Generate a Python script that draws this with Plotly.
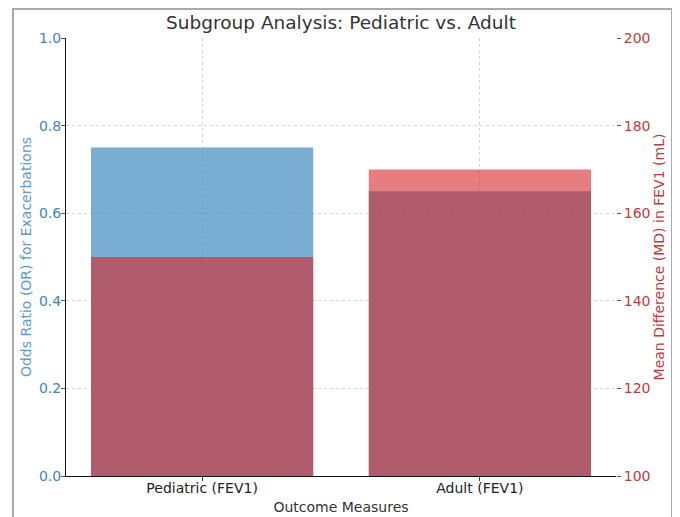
import plotly.graph_objects as go

categories = ["Pediatric (FEV1)", "Adult (FEV1)"]
odds_ratio = [0.75, 0.65]
mean_diff = [150, 170]
or_ticks = [0.0, 0.2, 0.4, 0.6, 0.8, 1.0]
md_ticks = [100, 120, 140, 160, 180, 200]

FONT = "DejaVu Sans"
BLUE_TXT = "#3f85b8"
RED_TXT = "#c23b3b"

# the page shows the figure 8 px in from the window's top-left corner,
# so the layout below is set 8 px up/left of where it appears
OFF = 8
W, H = 680, 517
L = 66 - OFF
T = 38 - OFF
PR = 616 - OFF           # plot right edge (figure px)
PB = 476 - OFF           # plot bottom edge (figure px)
R = W - PR
B = H - PB
PW, PH = PR - L, PB - T


def px_x(x):
    return (x - OFF - L) / PW


def px_y(y):
    return (PB - (y - OFF)) / PH


fig = go.Figure()
fig.add_trace(go.Bar(
    x=categories, y=odds_ratio, width=0.8,
    marker=dict(color="rgba(31,119,180,0.6)", line=dict(width=0)),
    yaxis="y", name="OR",
))
fig.add_trace(go.Bar(
    x=categories, y=mean_diff, width=0.8,
    marker=dict(color="rgba(214,39,40,0.6)", line=dict(width=0)),
    yaxis="y2", name="MD",
))

fig.update_layout(
    width=W, height=H,
    margin=dict(l=L, r=R, t=T, b=B, autoexpand=False),
    paper_bgcolor="white", plot_bgcolor="white",
    barmode="overlay", showlegend=False,
    font=dict(family=FONT, size=14, color="#222"),
    title=dict(text="Subgroup Analysis: Pediatric vs. Adult", x=(L + PW / 2) / W,
               xanchor="center", y=1 - (22.5 - OFF) / H, yanchor="middle",
               font=dict(family=FONT, size=18.5, color="#333")),
    xaxis=dict(
        type="category", range=[-0.49, 1.49], automargin=False,
        showline=True, linecolor="#111", linewidth=1,
        ticks="outside", ticklen=4, tickcolor="#333", ticklabelstandoff=-5,
        showgrid=True, gridcolor="#d4d4d4", griddash="dot", gridwidth=1,
        tickfont=dict(family=FONT, size=14, color="#222"),
        title=dict(text="Outcome Measures", standoff=7,
                   font=dict(family=FONT, size=14, color="#333")),
        zeroline=False, fixedrange=True,
    ),
    yaxis=dict(
        range=[0, 1.0], tickvals=or_ticks, ticktext=[f"{v:.1f}" for v in or_ticks],
        automargin=False,
        showline=True, linecolor="#111", linewidth=1,
        ticks="outside", ticklen=4, tickcolor="#555", ticklabelstandoff=-3,
        showgrid=True, gridcolor="#d4d4d4", griddash="dot", gridwidth=1,
        tickfont=dict(family=FONT, size=14, color=BLUE_TXT),
        title=dict(text="Odds Ratio (OR) for Exacerbations", standoff=4,
                   font=dict(family=FONT, size=14, color="#5a9bc8")),
        zeroline=False, fixedrange=True,
    ),
    yaxis2=dict(
        range=[100, 200], tickvals=md_ticks, overlaying="y", side="right",
        automargin=False,
        showline=False,
        ticks="outside", ticklen=4, tickcolor="#555", ticklabelstandoff=0,
        showgrid=False,
        tickfont=dict(family=FONT, size=14, color=RED_TXT),
        title=dict(text="Mean Difference (MD) in FEV1 (mL)", standoff=4,
                   font=dict(family=FONT, size=14, color=RED_TXT)),
        zeroline=False, fixedrange=True,
    ),
)

# screenshot frame around the figure
fig.add_shape(type="rect", xref="paper", yref="paper",
              x0=px_x(13), x1=px_x(672), y0=px_y(540), y1=px_y(9),
              line=dict(color="#aaaaaa", width=2), fillcolor="rgba(0,0,0,0)",
              layer="above")

fig.write_html("out.html")
